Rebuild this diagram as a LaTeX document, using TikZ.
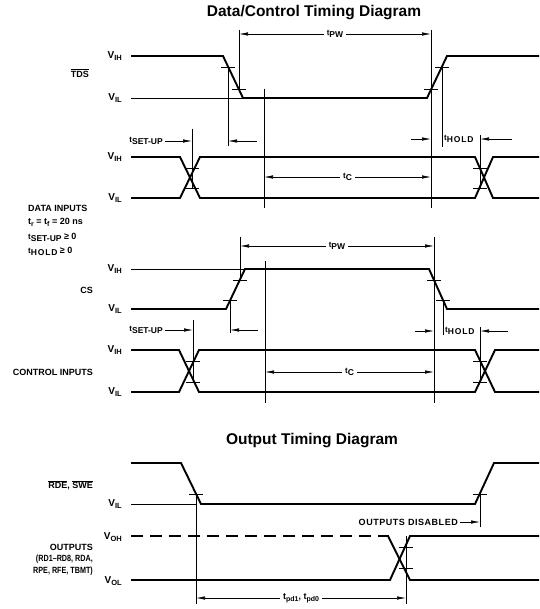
\documentclass[tikz,border=0pt]{standalone}
\usepackage{fontspec}
\setmainfont{Liberation Sans}
\usetikzlibrary{arrows.meta}
\newcommand{\Vl}[1]{{\fontsize{10}{11}\selectfont V}\raisebox{-2pt}{\fontsize{7.5}{8}\selectfont #1}}
\newcommand{\tl}[1]{{\fontsize{8}{9}\selectfont t}\raisebox{-1.8pt}{\fontsize{8.5}{9}\selectfont #1}}
\newcommand{\tlh}[1]{{\fontsize{8}{9}\selectfont t}\raisebox{-1.8pt}{\fontsize{8.5}{9}\selectfont\addfontfeature{LetterSpace=10}#1}}
\newcommand{\smsub}[1]{\raisebox{-1.8pt}{\fontsize{7}{8}\selectfont #1}}
\begin{document}
\begin{tikzpicture}[x=1pt,y=-1pt,
  every node/.style={font=\bfseries\fontsize{9}{10}\selectfont, inner sep=0pt},
  sig/.style={line width=1.9pt, line join=miter},
  thin/.style={line width=0.6pt},
  dimarr/.style={line width=0.6pt, {Latex[length=9pt,width=3.4pt]}-{Latex[length=9pt,width=3.4pt]}},
  onearr/.style={line width=0.6pt, -{Latex[length=9pt,width=3.4pt]}},
  lbl/.style={fill=white, inner xsep=3pt, inner ysep=1pt},
  ttl/.style={font=\bfseries\fontsize{15.5}{17}\selectfont}]
\useasboundingbox (0,0) rectangle (539,609);
\newcommand{\tk}[2]{\draw[thin] ({#1-7},#2) -- ({#1+7},#2);}

% ---------------- Title
\node[ttl] (title1) at (314,13) {Data/Control Timing Diagram};

% ---------------- TDS
\node[anchor=east] (vih1) at (122,56) {\Vl{IH}};
\node[anchor=east] (vil1) at (122,98) {\Vl{IL}};
\node[anchor=east] (tds) at (89,73) {$\overline{\hbox{TDS}}$};
\draw[thin] (131,98) -- (243,98);
\draw[sig] (131,56) -- (223,56) -- (243,98) -- (427,98) -- (447,56) -- (539,56);
\tk{228}{67} \tk{239}{89} \tk{442}{67} \tk{431}{89}
\draw[thin] (239,30) -- (239,89);
\draw[thin] (431,30) -- (431,208);
\draw[thin] (228,67) -- (228,146);
\draw[thin] (442,67) -- (442,147);
\draw[thin] (264,89) -- (264,208);
\draw[dimarr] (239,34) -- (431,34) node[lbl,midway] (tpw1) {\tl{PW}};

% ---------------- DATA INPUTS
\node[anchor=east] (vih2) at (122,157) {\Vl{IH}};
\node[anchor=east] (vil2) at (122,198) {\Vl{IL}};
\draw[sig] (131,157) -- (180,157) -- (200,198) -- (475,198) -- (493,157) -- (539,157);
\draw[sig] (131,198) -- (180,198) -- (200,157) -- (475,157) -- (493,198) -- (539,198);
\tk{192}{168} \tk{192}{188} \tk{480}{168} \tk{480}{188}
\draw[thin] (192,129) -- (192,188);
\draw[thin] (480,135) -- (480,188);
\node[anchor=east] (su1) at (163,141) {\tl{SET-UP}};
\draw[onearr] (165,141) -- (192,141);
\draw[onearr] (257,141) -- (228,141);
\draw[onearr] (411,139) -- (431,139);
\node[anchor=west] (ho1) at (444,139) {\tlh{HOLD}};
\draw[onearr] (512,139) -- (480,139);
\draw[dimarr] (264,177) -- (431,177) node[lbl,midway] (tc1) {\tl{C}};

\node[anchor=west] (di1) at (28,208) {DATA INPUTS};
\node[anchor=west] (di2) at (28,222) {t\smsub{r} = t\smsub{f} = 20 ns};
\node[anchor=west] (di3) at (28,237) {\tl{SET-UP} ≥ 0};
\node[anchor=west] (di4) at (28,251) {\tlh{HOLD} ≥ 0};

% ---------------- CS
\node[anchor=east] (vih3) at (122,269) {\Vl{IH}};
\node[anchor=east] (vil3) at (122,309) {\Vl{IL}};
\node[anchor=east] (cs) at (93,290) {CS};
\draw[thin] (131,269) -- (245,269);
\draw[sig] (131,309) -- (226,309) -- (245,269) -- (429,269) -- (447,309) -- (539,309);
\tk{230}{300} \tk{240}{280} \tk{434}{280} \tk{443}{300}
\draw[thin] (240,237) -- (240,280);
\draw[thin] (434,237) -- (434,403);
\draw[thin] (230,300) -- (230,333);
\draw[thin] (443,300) -- (443,335);
\draw[thin] (265,261) -- (265,403);
\draw[dimarr] (240,246) -- (434,246) node[lbl,midway] (tpw2) {\tl{PW}};

% ---------------- CONTROL INPUTS
\node[anchor=east] (vih4) at (122,350) {\Vl{IH}};
\node[anchor=east] (vil4) at (122,392) {\Vl{IL}};
\node[anchor=east] (ci) at (93,372) {CONTROL INPUTS};
\draw[sig] (131,350) -- (179,350) -- (199,392) -- (475,392) -- (495,350) -- (539,350);
\draw[sig] (131,392) -- (179,392) -- (199,350) -- (475,350) -- (495,392) -- (539,392);
\tk{193}{361} \tk{193}{382} \tk{480}{361} \tk{480}{382}
\draw[thin] (193,320) -- (193,382);
\draw[thin] (480,327) -- (480,382);
\node[anchor=east] (su2) at (163,330) {\tl{SET-UP}};
\draw[onearr] (165,330) -- (193,330);
\draw[onearr] (258,330) -- (230,330);
\draw[onearr] (415,331) -- (434,331);
\node[anchor=west] (ho2) at (445,331) {\tlh{HOLD}};
\draw[onearr] (508,331) -- (480,331);
\draw[dimarr] (265,372) -- (434,372) node[lbl,midway] (tc2) {\tl{C}};

% ---------------- Output Timing Diagram
\node[ttl] (title2) at (312,441) {Output Timing Diagram};
\node[anchor=east] (rde) at (93,485) {$\overline{\hbox{RDE}}$, $\overline{\hbox{SWE}}$};
\node[anchor=east] (vil5) at (122,504) {\Vl{IL}};
\draw[thin] (131,504) -- (196,504);
\draw[sig] (131,463) -- (181,463) -- (201,504) -- (475,504) -- (494,463) -- (539,463);
\tk{196}{494} \tk{480}{494}
\draw[thin] (196,494) -- (196,604);
\draw[thin] (480,494) -- (480,527);
\node[anchor=east] (od) at (458,522) {\addfontfeature{LetterSpace=6}OUTPUTS DISABLED};
\draw[onearr] (460,522) -- (480,522);

\node[anchor=east] (voh) at (122,537) {\Vl{OH}};
\node[anchor=east] (vol) at (122,581) {\Vl{OL}};
\node[anchor=east] (o1) at (93,547) {OUTPUTS};
\node[anchor=east] (o2) at (93,559) {\scalebox{0.8}[1]{(RD1--RD8, RDA,}};
\node[anchor=east] (o3) at (93,571) {\scalebox{0.8}[1]{RPE, RFE, TBMT)}};
\draw[sig, dash pattern=on 12pt off 7pt] (131,536) -- (389,536);
\draw[sig] (388,536) -- (410,580) -- (539,580);
\draw[sig] (131,580) -- (390,580) -- (410,536) -- (539,536);
\tk{406}{547} \tk{406}{568}
\draw[thin] (406,536) -- (406,604);
\draw[dimarr] (196,598) -- (406,598) node[lbl,midway] (tpd) {t\smsub{pd1}, t\smsub{pd0}};
\end{tikzpicture}
\end{document}
